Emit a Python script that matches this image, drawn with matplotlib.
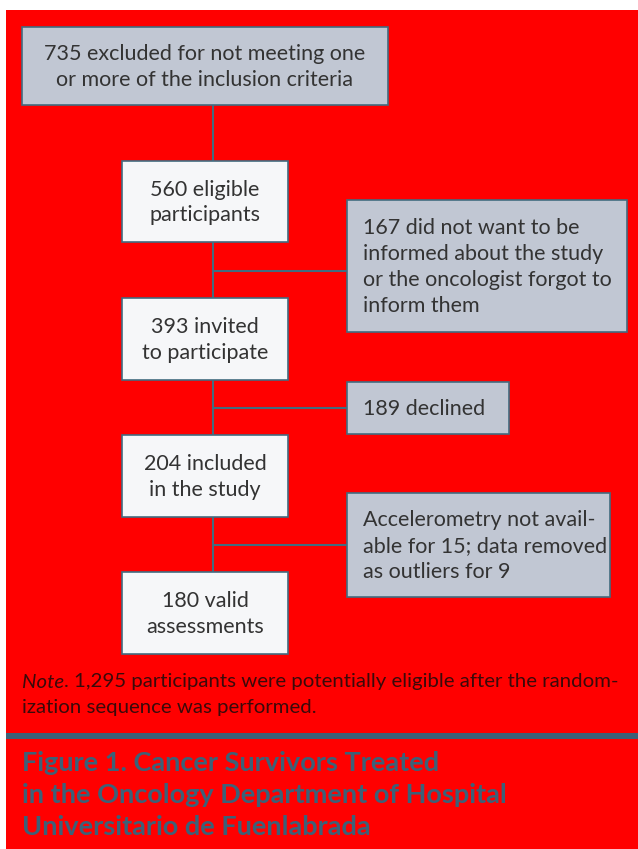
import matplotlib
matplotlib.use("Agg")
import matplotlib.pyplot as plt
from matplotlib.patches import Rectangle

# ---- content ----
main_labels = [
    "560 eligible\nparticipants",
    "393 invited\nto participate",
    "204 included\nin the study",
    "180 valid\nassessments",
]
top_label = "735 excluded for not meeting one\nor more of the inclusion criteria"
side_labels = [
    "167 did not want to be\ninformed about the study\nor the oncologist forgot to\ninform them",
    "189 declined",
    "Accelerometry not avail-\nable for 15; data removed\nas outliers for 9",
]
note_rest = ". 1,295 participants were potentially eligible after the random-"
note_line2 = "ization sequence was performed."
title_lines = [
    "Figure 1. Cancer Survivors Treated",
    "in the Oncology Department of Hospital",
    "Universitario de Fuenlabrada",
]

# ---- layout ----
W, H = 638, 849
body = "Lato"

RED = "#ff0000"
GRAY = "#c1c7d3"
WHITE = "#f6f7f9"
EDGE = "#426c80"
TXT = "#333333"
TEAL = "#3c6178"
NOTE = "#3a0a0a"

fig = plt.figure(figsize=(W / 100, H / 100), dpi=100)
ax = fig.add_axes([0, 0, 1, 1])
ax.set_xlim(0, W)
ax.set_ylim(H, 0)
ax.axis("off")
fig.patch.set_facecolor("white")

ax.add_patch(Rectangle((6, 10), W - 6, H - 10, facecolor=RED, edgecolor="none", zorder=0))

def box(x0, y0, x1, y1, fc):
    ax.add_patch(Rectangle((x0, y0), x1 - x0, y1 - y0, facecolor=fc,
                           edgecolor=EDGE, linewidth=1.2, zorder=3))

fs = 15.5
ls = 1.36
# connectors
ax.plot([213, 213], [105, 572], color=EDGE, lw=1.5, zorder=2)
for yy in (271, 408, 545):
    ax.plot([213, 347], [yy, yy], color=EDGE, lw=1.5, zorder=2)

# top box
box(22, 27, 388, 105, GRAY)
ax.text(205, 67, top_label, ha="center", va="center", fontsize=fs, color=TXT,
        family=body, linespacing=ls, zorder=4)

# main boxes
main_y = [(161, 242), (298, 380), (435, 517), (572, 654)]
for lab, (y0, y1) in zip(main_labels, main_y):
    box(122, y0, 288, y1, WHITE)
    ax.text(205, (y0 + y1) / 2 + 1, lab, ha="center", va="center", fontsize=fs,
            color=TXT, family=body, linespacing=ls, zorder=4)

# side boxes
side_box = [(347, 200, 627, 332), (347, 382, 509, 434), (347, 493, 610, 597)]
for lab, (x0, y0, x1, y1) in zip(side_labels, side_box):
    box(x0, y0, x1, y1, GRAY)
    ax.text(363, (y0 + y1) / 2 + 1, lab, ha="left", va="center", fontsize=fs,
            color=TXT, family=body, linespacing=ls, zorder=4)

# note
nfs = 14.7
t = ax.text(22, 682, "Note", ha="left", va="center", fontsize=nfs, color=NOTE,
            family=body, style="italic")
fig.canvas.draw()
bb = t.get_window_extent()
x_after = ax.transData.inverted().transform((bb.x1, 0))[0]
ax.text(x_after, 682, note_rest, ha="left", va="center", fontsize=nfs,
        color=NOTE, family=body)
ax.text(22, 708, note_line2, ha="left", va="center", fontsize=nfs, color=NOTE,
        family=body)

# teal bar
ax.add_patch(Rectangle((6, 733), W - 6, 6, facecolor=TEAL, edgecolor="none", zorder=2))

for i, line in enumerate(title_lines):
    ax.text(22, 763 + i * 32, line, ha="left", va="center", fontsize=19.5,
            color=TEAL, family=body, weight="bold")

fig.savefig("out.png", dpi=100, facecolor="white")
